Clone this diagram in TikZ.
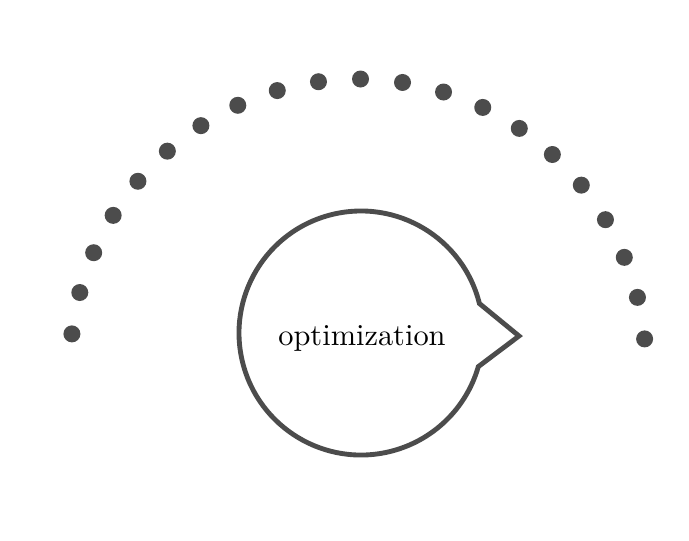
\documentclass[tikz,border=0pt]{standalone}
\begin{document}
\begin{tikzpicture}[x=0.329pt,y=-0.329pt,
  ink/.style={draw=black!70,line width=1.6pt,line join=miter},
  arcdot/.style={fill=black!70},
  lbl/.style={font=\normalsize,anchor=base,inner sep=0pt}]
\useasboundingbox (0,0) rectangle (689,541);
% arc of dots
\foreach \i in {0,...,20}{
  \pgfmathsetmacro{\ang}{173.4-\i*8.39}
  \fill[arcdot] ({358+288*cos(\ang)},{367-288*sin(\ang)}) circle[radius=8.5];
}
% callout circle (centre 361,333; radius 122)
\coordinate (j1) at (479.4,303.5);
\coordinate (tip) at (519,336);
\draw[ink] (j1) arc[start angle=-14,end angle=-344,radius=122] -- (tip) -- cycle;
\node[lbl] (label) at (362,345) {optimization};
\end{tikzpicture}
\end{document}
